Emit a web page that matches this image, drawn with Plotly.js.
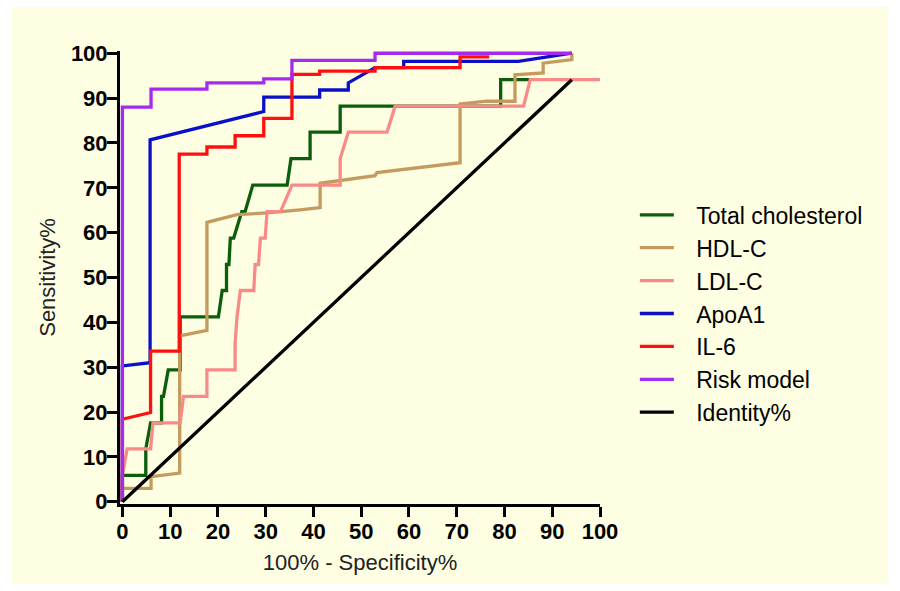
<!DOCTYPE html>
<html>
<head>
<meta charset="utf-8">
<script src="https://cdn.plot.ly/plotly-3.0.1.min.js"></script>
<style>
  html, body { margin: 0; padding: 0; background: #ffffff; width: 900px; height: 591px; overflow: hidden; }
  #chart { position: absolute; left: 12px; top: 7px; width: 876px; height: 577px; }
</style>
</head>
<body>
<div id="chart"></div>
<script>
// ---- Data ----
const seriesNames = ["Total cholesterol", "HDL-C", "LDL-C", "ApoA1", "IL-6", "Risk model", "Identity%"];

const totalCholX = [0, 0, 4.9, 4.9, 5.9, 8.2, 8.2, 8.6, 9.6, 12.1, 12.1, 20.1, 20.9, 21.8, 21.8, 22.3, 22.6, 23.3, 25.0, 25.7, 27.3, 34.5, 35.3, 39.3, 39.3, 45.6, 45.6, 79.2, 79.2, 85.4];
const totalCholY = [0, 5.9, 5.9, 11.8, 17.6, 17.6, 23.5, 23.5, 29.4, 29.4, 41.2, 41.2, 47.1, 47.1, 52.9, 52.9, 58.8, 58.8, 64.7, 64.7, 70.6, 70.6, 76.5, 76.5, 82.4, 82.4, 88.2, 88.2, 94.1, 94.1];

const hdlX = [0, 0, 6.0, 6.0, 12.0, 12.0, 17.7, 17.7, 24.0, 30.3, 37.2, 41.4, 41.4, 52.9, 53.3, 70.7, 70.7, 76.3, 82.2, 82.2, 88.1, 88.1, 94.1, 94.1];
const hdlY = [0, 3.0, 3.0, 5.6, 6.4, 37.0, 38.2, 62.3, 64.0, 64.4, 65.1, 65.6, 71.0, 72.7, 73.4, 75.6, 88.7, 89.3, 89.3, 95.2, 95.6, 97.8, 98.6, 100];

const ldlX = [0, 0, 1.0, 5.9, 6.4, 12.1, 12.8, 17.7, 17.7, 23.6, 23.6, 24.0, 24.7, 27.5, 27.8, 28.5, 28.9, 29.9, 30.3, 33.1, 35.5, 45.6, 45.6, 47.3, 55.4, 57.1, 84.0, 85.4, 100];
const ldlY = [0, 5.9, 11.8, 11.8, 17.6, 17.6, 23.5, 23.5, 29.4, 29.4, 35.3, 41.2, 47.1, 47.1, 52.9, 52.9, 58.8, 58.8, 64.7, 64.7, 70.6, 70.6, 76.5, 82.4, 82.4, 88.2, 88.2, 94.1, 94.1];

const apoX = [0, 0, 5.8, 5.8, 29.6, 29.6, 41.3, 41.3, 47.3, 47.3, 52.9, 58.9, 58.9, 82.9, 94.1];
const apoY = [0, 30.3, 31.0, 80.7, 87.0, 90.2, 90.2, 91.8, 91.8, 93.4, 96.8, 96.8, 98.2, 98.2, 100];

const il6X = [0, 0, 5.9, 5.9, 11.9, 11.9, 17.7, 17.7, 23.6, 23.6, 29.6, 29.6, 35.5, 35.5, 41.3, 41.3, 52.9, 52.9, 70.7, 70.7, 76.8];
const il6Y = [0, 18.4, 19.9, 33.6, 33.6, 77.5, 77.5, 79.1, 79.1, 81.6, 81.6, 85.5, 85.5, 95.3, 95.3, 96.0, 96.0, 96.8, 96.8, 99.2, 99.2];

const riskX = [0, 0, 6.0, 6.0, 17.7, 17.7, 29.6, 29.6, 35.5, 35.5, 52.9, 52.9, 94.1];
const riskY = [0, 88.0, 88.0, 92.0, 92.0, 93.4, 93.4, 94.3, 94.3, 98.4, 98.4, 100, 100];

const identityX = [0, 94.1];
const identityY = [0, 94.1];

const xTickVals = [0, 10, 20, 30, 40, 50, 60, 70, 80, 90, 100];
const yTickVals = [0, 10, 20, 30, 40, 50, 60, 70, 80, 90, 100];

const colors = ["#0b5e0b", "#c49a5e", "#f88a8a", "#0a10c8", "#ff1010", "#a52af0", "#000000"];
const xs = [totalCholX, hdlX, ldlX, apoX, il6X, riskX, identityX];
const ys = [totalCholY, hdlY, ldlY, apoY, il6Y, riskY, identityY];

// legend label gap in the reference is wider than Plotly's default
const legendPad = "\u00A0\u00A0\u2009";

const traces = seriesNames.map((name, i) => ({
  type: "scatter",
  mode: "lines",
  name: legendPad + name,
  x: xs[i],
  y: ys[i],
  line: { color: colors[i], width: 3.3, shape: "linear" },
  hoverinfo: "skip"
}));

const fontFam = "Liberation Sans, Arial, Helvetica, sans-serif";
const axisCommon = {
  showline: true, linecolor: "#000", linewidth: 3,
  ticks: "outside", ticklen: 10, tickwidth: 3, tickcolor: "#000",
  showgrid: false, zeroline: false,
  tickfont: { family: fontFam, size: 22, color: "#000", weight: "bold" },
  fixedrange: true
};

const layout = {
  width: 876, height: 577,
  paper_bgcolor: "#fefee2", plot_bgcolor: "#fefee2",
  margin: { l: 108, r: 288, t: 44, b: 80, pad: 0 },
  showlegend: true,
  xaxis: Object.assign({}, axisCommon, {
    range: [-0.5, 100], tickvals: xTickVals, ticktext: xTickVals.map(String),
    ticklabelstandoff: -4,
    title: { text: "100% - Specificity%", font: { family: fontFam, size: 22, color: "#222" }, standoff: 12 }
  }),
  yaxis: Object.assign({}, axisCommon, {
    range: [-0.5, 100.5], tickvals: yTickVals, ticktext: yTickVals.map(String),
    ticklabelstandoff: -5,
    title: { text: "Sensitivity%", font: { family: fontFam, size: 22, color: "#222" }, standoff: 10 }
  }),
  legend: {
    xref: "container", yref: "container",
    x: 0.711, y: 0.677, xanchor: "left", yanchor: "top",
    bgcolor: "rgba(0,0,0,0)", borderwidth: 0,
    itemwidth: 34,
    font: { family: fontFam, size: 23, color: "#000" }
  }
};

Plotly.newPlot("chart", traces, layout, { displayModeBar: false, staticPlot: true });
</script>
</body>
</html>
